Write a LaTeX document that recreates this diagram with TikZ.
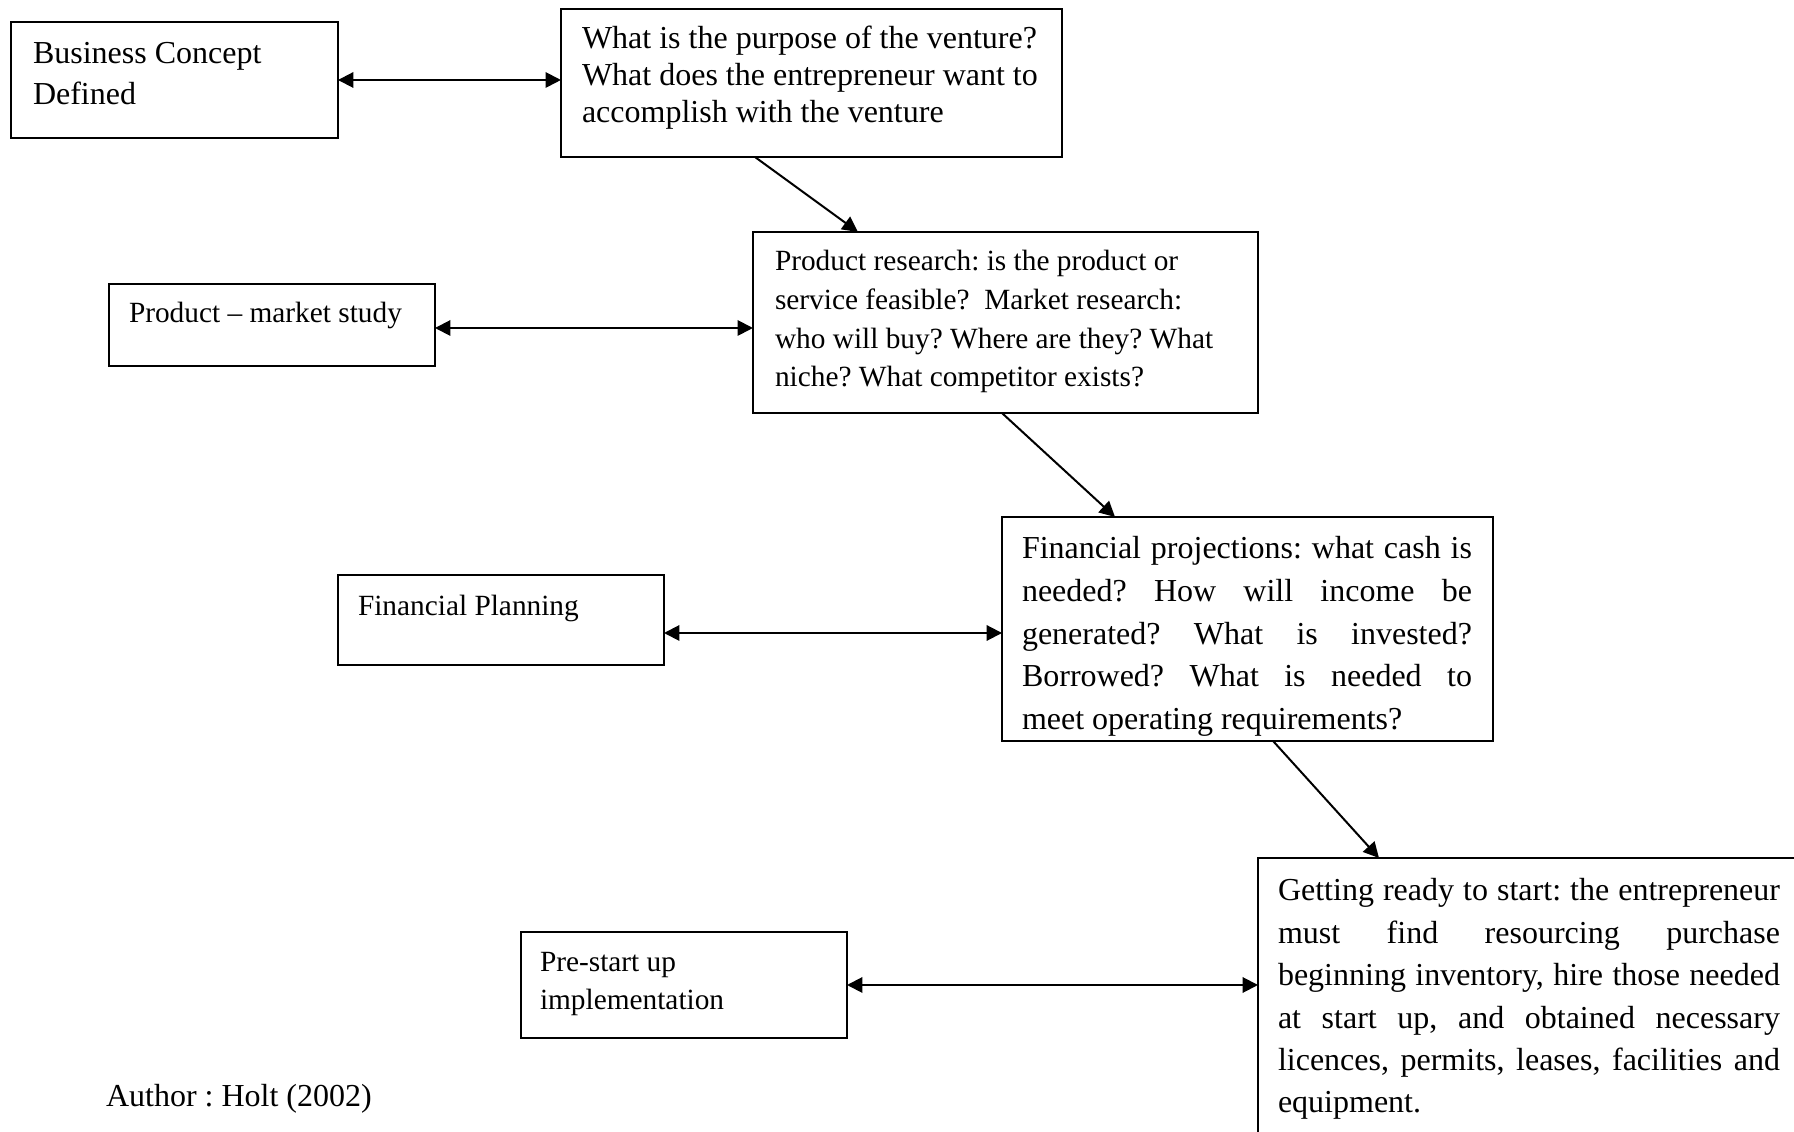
\documentclass[tikz,border=0pt]{standalone}
\usepackage{fontspec}
\setmainfont{Liberation Serif}
\usetikzlibrary{arrows.meta,calc}
\tikzset{
  box/.style={draw, line width=0.75pt, inner sep=0pt, outer sep=0pt, rectangle},
  txt/.style={anchor=north west, inner sep=0pt, outer sep=0pt, align=left},
  conn/.style={line width=0.75pt, -{Triangle[length=5.8pt,width=5.8pt]}},
  biconn/.style={line width=0.75pt, {Triangle[length=5.8pt,width=5.8pt]}-{Triangle[length=5.8pt,width=5.8pt]}},
}
\newcommand{\fr}{\rule{0pt}{9pt}}
\frenchspacing
\begin{document}
\begin{tikzpicture}[x=0.375pt,y=-0.375pt]
\useasboundingbox (0,0) rectangle (1794,1132);
% boxes
\node[box, minimum width=122.6pt, minimum height=43.5pt] (b1) at (174.5,80) {};
\node[box, minimum width=187.9pt, minimum height=55.5pt] (b2) at (811.5,83) {};
\node[box, minimum width=122.25pt, minimum height=30.75pt] (b3) at (272,325) {};
\node[box, minimum width=189.4pt, minimum height=67.9pt] (b4) at (1005.5,322.5) {};
\node[box, minimum width=122.25pt, minimum height=33.75pt] (b5) at (501,620) {};
\node[box, minimum width=184.1pt, minimum height=84pt] (b6) at (1247.5,629) {};
\node[box, minimum width=122.25pt, minimum height=39.75pt] (b7) at (684,985) {};
\node[box, minimum width=207pt, minimum height=109.5pt] (b8) at (1534,1004) {};
% texts
\node[txt, font=\fontsize{12pt}{15.375pt}\selectfont\frenchspacing] (t1) at (33,40) {\fr Business Concept\\Defined};
\node[txt, font=\fontsize{12pt}{13.875pt}\selectfont\frenchspacing] (t2) at (582,25) {\fr What is the purpose of the venture?\\What does the entrepreneur want to\\accomplish with the venture};
\node[txt, font=\fontsize{11pt}{14.4pt}\selectfont\frenchspacing] (t3) at (129,299) {\fr Product -- market study};
\node[txt, font=\fontsize{11pt}{14.44pt}\selectfont\frenchspacing] (t4) at (775,247) {\fr Product research: is the product or\\service feasible?\ \ Market research:\\who will buy? Where are they? What\\niche? What competitor exists?};
\node[txt, font=\fontsize{11pt}{14.4pt}\selectfont\frenchspacing] (t5) at (358,592) {\fr Financial Planning};
\node[txt, font=\fontsize{12pt}{15.94pt}\selectfont\frenchspacing] (t6) at (1022,535) {\fr\makebox[168.75pt][s]{Financial projections: what cash is}\\\makebox[168.75pt][s]{needed? How will income be}\\\makebox[168.75pt][s]{generated? What is invested?}\\\makebox[168.75pt][s]{Borrowed? What is needed to}\\meet operating requirements?};
\node[txt, font=\fontsize{11pt}{14.25pt}\selectfont\frenchspacing] (t7) at (540,948) {\fr Pre-start up\\implementation};
\node[txt, font=\fontsize{12pt}{15.9pt}\selectfont\frenchspacing] (t8) at (1278,877) {\fr\makebox[188.25pt][s]{Getting ready to start: the entrepreneur}\\\makebox[188.25pt][s]{must find resourcing purchase}\\\makebox[188.25pt][s]{beginning inventory, hire those needed}\\\makebox[188.25pt][s]{at start up, and obtained necessary}\\\makebox[188.25pt][s]{licences, permits, leases, facilities and}\\equipment.};
\node[txt, font=\fontsize{12pt}{14.4pt}\selectfont\frenchspacing] (author) at (106,1083) {\fr Author : Holt (2002)};
% horizontal connectors
\draw[biconn] (b1.east) -- (b1.east -| b2.west);
\draw[biconn] ($(b3.east)+(0,3)$) -- ($(b3.east -| b4.west)+(0,3)$);
\draw[biconn] ($(b5.east |- b6.west)+(0,4)$) -- ($(b6.west)+(0,4)$);
\draw[biconn] (b7.east) -- (b7.east -| b8.west);
% diagonal connectors
\draw[conn] ($(b2.south west)+(194,0)$) -- ($(b4.north west)+(105,0)$);
\draw[conn] ($(b4.south west)+(249,0)$) -- ($(b6.north west)+(113,0)$);
\draw[conn] ($(b6.south west)+(271,0)$) -- ($(b8.north west)+(121,0)$);
\end{tikzpicture}
\end{document}
